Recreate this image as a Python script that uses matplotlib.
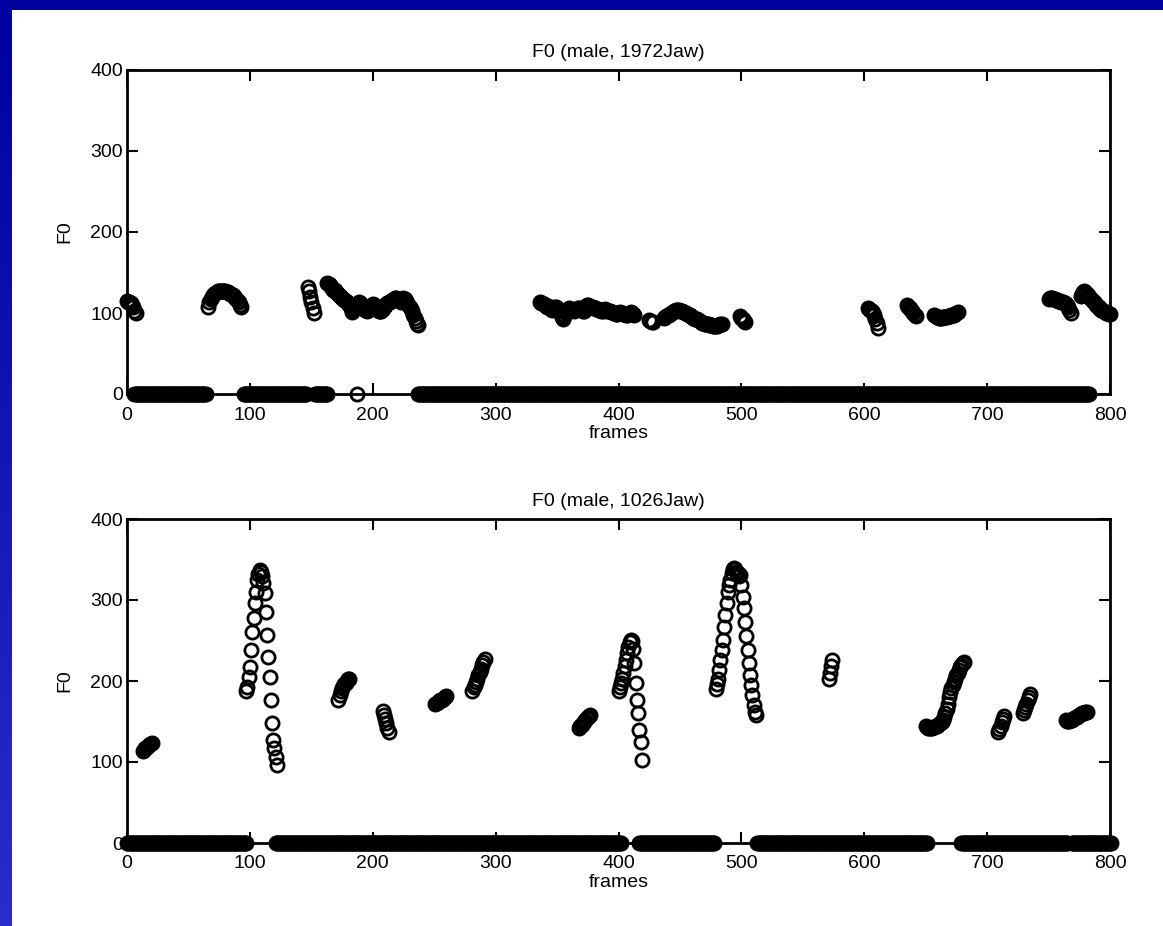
import numpy as np
import matplotlib
matplotlib.use("Agg")
import matplotlib.pyplot as plt
from matplotlib.patches import Rectangle

plt.rcParams['font.family'] = ['Liberation Sans Narrow', 'Liberation Sans', 'DejaVu Sans']

# ---------------- data ----------------
titles = ["F0 (male, 1972Jaw)", "F0 (male, 1026Jaw)"]
xlabel_text = "frames"
ylabel_text = "F0"
x_ticks = [0, 100, 200, 300, 400, 500, 600, 700, 800]
y_ticks = [0, 100, 200, 300, 400]

# unvoiced frame ranges (F0 = 0), inclusive
top_zero_ranges = [(6, 64), (95, 146), (153, 163), (187, 187), (237, 783)]
bottom_zero_ranges = [(0, 97), (121, 402), (417, 478), (513, 651), (679, 765), (769, 801)]

# voiced segments: (first frame, F0 values per frame)
top_voiced = [
    (0, [115, 114, 113, 112, 110, 107, 103, 100]),
    (66, [108, 113, 117, 120, 122, 124, 125, 126, 127, 127, 127, 127, 127, 127,
          127, 126, 126, 125, 124, 123, 122, 121, 119, 117, 115, 113, 110, 108]),
    (147, [132, 127, 120, 113, 106, 100]),
    (163, [137, 136, 134, 132, 131, 129, 128, 126, 125, 123, 121, 120, 118, 117,
           116, 115, 114]),
    (180, [112, 110, 106, 101, 104, 108, 110]),
    (188, [112, 113, 112, 110, 108, 106, 104, 103, 104, 106, 108, 110, 111, 110,
           108, 106, 104, 103, 102, 103, 105, 107, 109]),
    (211, [111, 112, 113, 114, 115, 116, 117, 118, 118, 117, 116, 115, 114, 116,
           118, 117, 115, 112, 110, 108, 105, 102, 98, 94, 90, 87, 85]),
    (336, [113, 112, 112, 111, 110, 109, 108, 109, 107, 105, 104, 105, 107, 108,
           106, 104, 102, 99, 95, 92, 96, 100, 103, 105, 106, 105, 104, 104, 103,
           104, 105, 106, 106, 105, 104, 103, 103]),
    (373, [108, 110, 110, 109, 108, 107, 107, 106, 106, 105, 105, 104, 104, 103,
           103, 104, 105, 104, 103, 102, 102, 101, 101, 100, 100, 99, 99, 100, 101,
           100, 100, 99, 99, 98, 98, 99, 100, 101, 100, 99, 98]),
    (425, [91, 90, 89, 89]),
    (437, [94, 95, 96, 97, 98, 99, 100, 101, 102, 103, 104, 104, 104, 103, 103,
           102, 101, 100, 100, 99, 98, 97, 96, 95, 94, 93, 92, 92, 91, 90, 89, 88,
           88, 87, 87, 86, 86, 85, 85, 85, 84, 84, 84, 84, 85, 85, 86, 86]),
    (499, [96, 94, 92, 90, 89]),
    (603, [106, 105, 104, 102, 100, 97, 93, 88, 82]),
    (635, [110, 108, 106, 104, 102, 100, 98, 96]),
    (657, [98, 96, 95, 95, 94, 94, 94, 95, 95, 95, 95, 96, 96, 96, 97, 97, 98, 99,
           100, 101]),
    (750, [117, 118, 118, 118, 117, 117, 116, 116, 115, 115, 114, 114, 113, 112,
           111, 110, 108, 104, 100]),
    (776, [121, 124, 126, 127, 126, 124, 122, 120, 118, 116, 115, 113, 112, 110,
           108, 107, 105, 104, 103, 102, 101, 100, 100, 99, 99]),
]

bottom_voiced = [
    (13, [113, 115, 117, 118, 120, 121, 122, 123]),
    (97, [188, 193, 205, 217, 238, 261, 278, 296, 310, 325, 332, 337, 335, 330,
          321, 309, 285, 257, 230, 205, 177, 148, 127, 117, 106, 96]),
    (172, [176, 183, 188, 191, 194, 196, 198, 200, 202, 203]),
    (208, [163, 158, 153, 148, 142, 137]),
    (251, [172, 173, 174, 175, 176, 177, 178, 179, 180, 181]),
    (281, [188, 192, 195, 199, 203, 207, 211, 215, 220, 224, 227]),
    (368, [142, 144, 146, 148, 150, 152, 154, 156, 157, 158]),
    (400, [188, 192, 197, 203, 210, 218, 226, 234, 242, 248, 251, 250, 240, 222,
           197, 177, 160, 139, 125, 102]),
    (479, [190, 196, 203, 213, 226, 238, 251, 267, 281, 296, 310, 318, 325, 333,
           338, 340, 338, 335, 333, 330, 331, 318, 304, 290, 273, 255, 238, 222,
           207, 195, 183, 170, 162, 158]),
    (571, [202, 210, 218, 226]),
    (650, [144, 143, 142, 142, 142, 142, 143, 143, 144, 145, 146, 147, 148, 150,
           152, 155, 160, 165, 172, 180, 186, 191, 195, 199, 203, 207, 210, 214,
           217, 220, 222, 224]),
    (709, [137, 141, 145, 149, 153, 157]),
    (729, [160, 164, 168, 172, 176, 180, 184]),
    (764, [152, 151, 151, 151, 152, 152, 153, 154, 155, 156, 157, 158, 159, 160,
           161, 161, 162, 162]),
]

# ---------------- figure ----------------
W, H = 1163, 926
fig = plt.figure(figsize=(W / 100, H / 100), dpi=100)
fig.patch.set_facecolor('white')

# slide border (blue band top, gradient band left)
fig.patches.append(Rectangle((0, 1 - 10 / H), 1, 10 / H, transform=fig.transFigure,
                             facecolor='#00009E', edgecolor='none', zorder=-5))
gax = fig.add_axes([0, 0, 12 / W, 1 - 10 / H])
grad = np.linspace(0, 1, 256).reshape(-1, 1)
c0 = np.array([0, 0, 158]) / 255.0
c1 = np.array([44, 44, 204]) / 255.0
img = c0[None, None, :] * (1 - grad[:, :, None]) + c1[None, None, :] * grad[:, :, None]
gax.imshow(img, aspect='auto', extent=[0, 1, 0, 1], origin='upper')
gax.set_axis_off()


def expand_ranges(ranges):
    xs = []
    for a, b in ranges:
        xs.extend(range(a, b + 1))
    return np.array(xs)


def draw_panel(rect, title, zero_ranges, voiced):
    ax = fig.add_axes(rect)
    zx = expand_ranges(zero_ranges)
    mk = dict(linestyle='none', marker='o', markersize=9.5, markerfacecolor='none',
              markeredgecolor='black', markeredgewidth=2.0, clip_on=False, zorder=3)
    ax.plot(zx, np.zeros_like(zx), **mk)
    for start, vals in voiced:
        fx = np.arange(start, start + len(vals))
        ax.plot(fx, vals, **mk)
    ax.set_xlim(0, 800)
    ax.set_ylim(0, 400)
    ax.set_xticks(x_ticks)
    ax.set_yticks(y_ticks)
    ax.tick_params(direction='in', length=8, width=1.5, top=True, right=True,
                   labelsize=14)
    ax.tick_params(axis='x', pad=9)
    ax.tick_params(axis='y', pad=3)
    for s in ax.spines.values():
        s.set_linewidth(2.0)
    ax.set_title(title, fontsize=14, pad=9)
    ax.set_xlabel(xlabel_text, fontsize=14, labelpad=1)
    ax.set_ylabel(ylabel_text, fontsize=14, labelpad=12)
    return ax


left = 127 / W
width = (1110 - 127) / W
height = 324 / H
draw_panel([left, 1 - 394 / H, width, height], titles[0], top_zero_ranges, top_voiced)
draw_panel([left, 1 - 843 / H, width, height], titles[1], bottom_zero_ranges, bottom_voiced)

fig.savefig('out.png', dpi=100, facecolor=fig.get_facecolor())
